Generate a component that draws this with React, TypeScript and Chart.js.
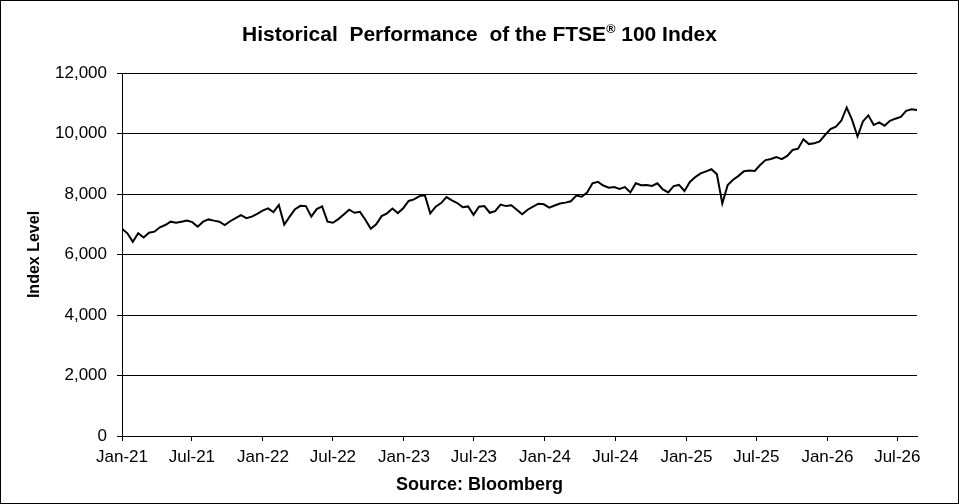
import { useEffect, useRef } from "react";
import { Chart, registerables } from "chart.js";

Chart.register(...registerables);

// FTSE 100 closing level, one reading every two weeks from 1 Jan 2021
const stepDays = 14;
const indexLevel = [
  6850, 6700, 6420, 6700, 6560, 6720, 6755, 6900, 6975, 7085,
  7050, 7085, 7120, 7070, 6920, 7085, 7160, 7120, 7085, 6975,
  7100, 7200, 7300, 7200, 7250, 7340, 7450, 7525, 7400, 7640,
  6990, 7250, 7500, 7610, 7600, 7250, 7500, 7590, 7085, 7050,
  7170, 7320, 7480, 7380, 7410, 7150, 6850, 7000, 7270, 7360,
  7520, 7370, 7530, 7770, 7820, 7930, 7960, 7360, 7580, 7700,
  7900, 7790, 7700, 7560, 7590, 7310, 7580, 7600, 7380, 7430,
  7650, 7600, 7630, 7480, 7330, 7480, 7580, 7680, 7660, 7550,
  7620, 7685, 7715, 7760, 7950, 7910, 8050, 8355, 8400, 8280,
  8210, 8230, 8170, 8230, 8050, 8355, 8290, 8295, 8265, 8355,
  8150, 8050, 8260, 8300, 8100, 8400, 8560, 8680, 8750, 8820,
  8650, 7690, 8300, 8470, 8600, 8750, 8780, 8760, 8960, 9120,
  9155, 9220, 9150, 9260, 9455, 9500, 9810, 9650, 9675, 9740,
  9950, 10150, 10225, 10420, 10860, 10450, 9900, 10400, 10600, 10280,
  10370, 10260, 10420, 10490, 10550, 10750, 10800, 10780,
];

const tickLabels = [
  "Jan-21", "Jul-21", "Jan-22", "Jul-22", "Jan-23", "Jul-23",
  "Jan-24", "Jul-24", "Jan-25", "Jul-25", "Jan-26", "Jul-26",
];
const tickMonths = [0, 6, 12, 18, 24, 30, 36, 42, 48, 54, 60, 66];

const DAY = 86400000;
const start = Date.UTC(2021, 0, 1);
const tickDays = tickMonths.map((m) => (Date.UTC(2021, m, 1) - start) / DAY);

const FONT = "'Liberation Sans', Arial, sans-serif";

export default function App() {
  const canvasRef = useRef<HTMLCanvasElement | null>(null);

  useEffect(() => {
    document.body.style.margin = "0";
    if (!canvasRef.current) return;

    const points = indexLevel.map((v, i) => ({ x: i * stepDays, y: v }));
    const lastDay = (indexLevel.length - 1) * stepDays;

    const chart = new Chart(canvasRef.current, {
      type: "line",
      data: {
        datasets: [
          {
            label: "FTSE 100",
            data: points,
            borderColor: "#000",
            borderWidth: 2,
            pointRadius: 0,
            tension: 0,
            fill: false,
          },
        ],
      },
      options: {
        responsive: false,
        animation: false,
        layout: { padding: { left: 0, top: 72, right: 41, bottom: 0 } },
        plugins: {
          legend: { display: false },
          tooltip: { enabled: false },
        },
        scales: {
          x: {
            type: "linear",
            min: 0,
            max: lastDay,
            afterBuildTicks: (scale) => {
              scale.ticks = tickDays.map((v) => ({ value: v }));
            },
            afterFit: (scale) => {
              scale.height = 67;
            },
            ticks: {
              color: "#000",
              font: { family: FONT, size: 17 },
              padding: 6,
              maxRotation: 0,
              autoSkip: false,
              callback: (_v, i) => tickLabels[i],
            },
            grid: {
              drawOnChartArea: false,
              drawTicks: true,
              tickLength: 5,
              color: "#000",
            },
            border: { display: true, color: "#000", width: 1 },
          },
          y: {
            min: 0,
            max: 12000,
            afterFit: (scale) => {
              scale.width = 121;
            },
            ticks: {
              stepSize: 2000,
              color: "#000",
              font: { family: FONT, size: 17 },
              padding: 10,
              callback: (v) => Number(v).toLocaleString("en-US"),
            },
            grid: { color: "#000", lineWidth: 1, tickLength: 5 },
            border: { display: true, color: "#000", width: 1 },
            title: {
              display: true,
              text: "Index Level",
              color: "#000",
              font: { family: FONT, size: 16, weight: "bold" },
              padding: { top: 24, bottom: 0 },
            },
          },
        },
      },
    });

    return () => chart.destroy();
  }, []);

  const textStyle = {
    position: "absolute" as const,
    left: 0,
    width: 957,
    textAlign: "center" as const,
    fontFamily: FONT,
    fontWeight: "bold" as const,
    color: "#000",
    whiteSpace: "pre" as const,
  };

  return (
    <div
      style={{
        position: "relative",
        width: 959,
        height: 504,
        border: "1px solid #000",
        boxSizing: "border-box",
        background: "#fff",
      }}
    >
      <div style={{ ...textStyle, top: 22, fontSize: 21, lineHeight: "21px" }}>
        Historical  Performance  of the FTSE
        <sup style={{ fontSize: "0.6em", lineHeight: 0 }}>®</sup> 100 Index
      </div>
      <canvas ref={canvasRef} width={957} height={502} />
      <div style={{ ...textStyle, top: 474, fontSize: 18, lineHeight: "18px" }}>
        Source: Bloomberg
      </div>
    </div>
  );
}
